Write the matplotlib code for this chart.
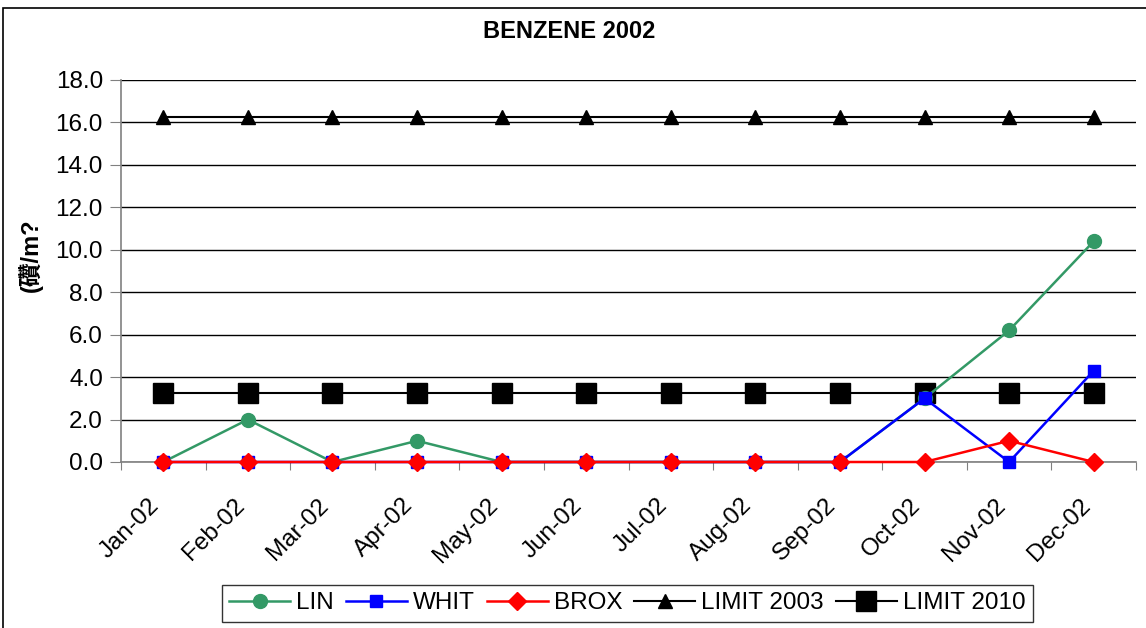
import matplotlib
matplotlib.use("Agg")
import matplotlib.pyplot as plt
import matplotlib.transforms as mtransforms
from matplotlib.patches import Rectangle

months = ['Jan-02', 'Feb-02', 'Mar-02', 'Apr-02', 'May-02', 'Jun-02',
          'Jul-02', 'Aug-02', 'Sep-02', 'Oct-02', 'Nov-02', 'Dec-02']
lin = [0.0, 2.0, 0.0, 1.0, 0.0, 0.0, 0.0, 0.0, 0.0, 3.0, 6.2, 10.4]
whit = [0.0, 0.0, 0.0, 0.0, 0.0, 0.0, 0.0, 0.0, 0.0, 3.0, 0.0, 4.3]
brox = [0.0, 0.0, 0.0, 0.0, 0.0, 0.0, 0.0, 0.0, 0.0, 0.0, 1.0, 0.0]
limit_2003 = [16.25] * 12
limit_2010 = [3.25] * 12
yticks = [0, 2, 4, 6, 8, 10, 12, 14, 16, 18]

plt.rcParams['font.family'] = ['Liberation Sans', 'Noto Sans CJK SC', 'DejaVu Sans']

fig = plt.figure(figsize=(11.46, 6.28), dpi=100)
fig.patches.append(Rectangle((3 / 1146, -0.1), 1.2, 1.1 - 8 / 628,
                             transform=fig.transFigure, fill=False,
                             edgecolor='black', linewidth=1.2))

ax = fig.add_axes([121 / 1146, 1 - 462 / 628, (1136 - 121) / 1146, (462 - 80) / 628])
x = list(range(len(months)))

ax.plot(x, lin, color='#339966', marker='o', markersize=10, lw=1.8, label='LIN',
        zorder=4, clip_on=False)
ax.plot(x, whit, color='#0000FF', marker='s', markersize=9, lw=1.8, label='WHIT',
        zorder=5, clip_on=False)
ax.plot(x, brox, color='#FF0000', marker='D', markersize=9, lw=1.8, label='BROX',
        zorder=6, clip_on=False)
ax.plot(x, limit_2003, color='black', marker='^', markersize=10, lw=1.5,
        label='LIMIT 2003', zorder=3)
ax.plot(x, limit_2010, color='black', marker='s', markersize=14, lw=1.5,
        label='LIMIT 2010', zorder=3)

ax.set_xlim(-0.5, 11.5)
ax.set_ylim(0, 18)
ax.set_yticks(yticks)
ax.set_yticklabels([f'{v:.1f}' for v in yticks], fontsize=17.5)
ax.grid(axis='y', color='black', lw=1.0)
ax.set_axisbelow(True)

# ticks between categories, month labels under each category
ax.set_xticks([i - 0.5 for i in range(13)])
ax.set_xticklabels([])
shift = mtransforms.ScaledTranslation(-0.07, -0.40, fig.dpi_scale_trans)
for xi, m in zip(x, months):
    ax.text(xi, 0, m, transform=ax.get_xaxis_transform() + shift,
            rotation=45, ha='right', va='center', rotation_mode='anchor',
            fontsize=17.5)
ax.tick_params(axis='x', which='major', length=6, color='#808080', direction='out')
ax.tick_params(axis='y', length=8, color='#808080', direction='out', pad=5)

for s in ['top', 'right']:
    ax.spines[s].set_visible(False)
for s in ['left', 'bottom']:
    ax.spines[s].set_color('#808080')
    ax.spines[s].set_linewidth(1.2)

fig.text(569 / 1146, 1 - 32 / 628, 'BENZENE 2002', ha='center', va='center',
         fontsize=17, fontweight='bold')
fig.text(30 / 1146, 1 - 255 / 628, '(礸/m?', rotation=90, ha='center', va='center',
         fontsize=17, fontweight='bold')

leg = fig.legend(loc='upper left', bbox_to_anchor=(222 / 1146, 1 - 585 / 628),
                 ncol=5, fontsize=17.5, frameon=True, fancybox=False,
                 handlelength=2.5, handletextpad=0.25, columnspacing=0.5,
                 borderpad=0.3, borderaxespad=0)
leg.get_frame().set_edgecolor('black')
leg.get_frame().set_linewidth(1.0)

fig.savefig('out.png', dpi=100)
